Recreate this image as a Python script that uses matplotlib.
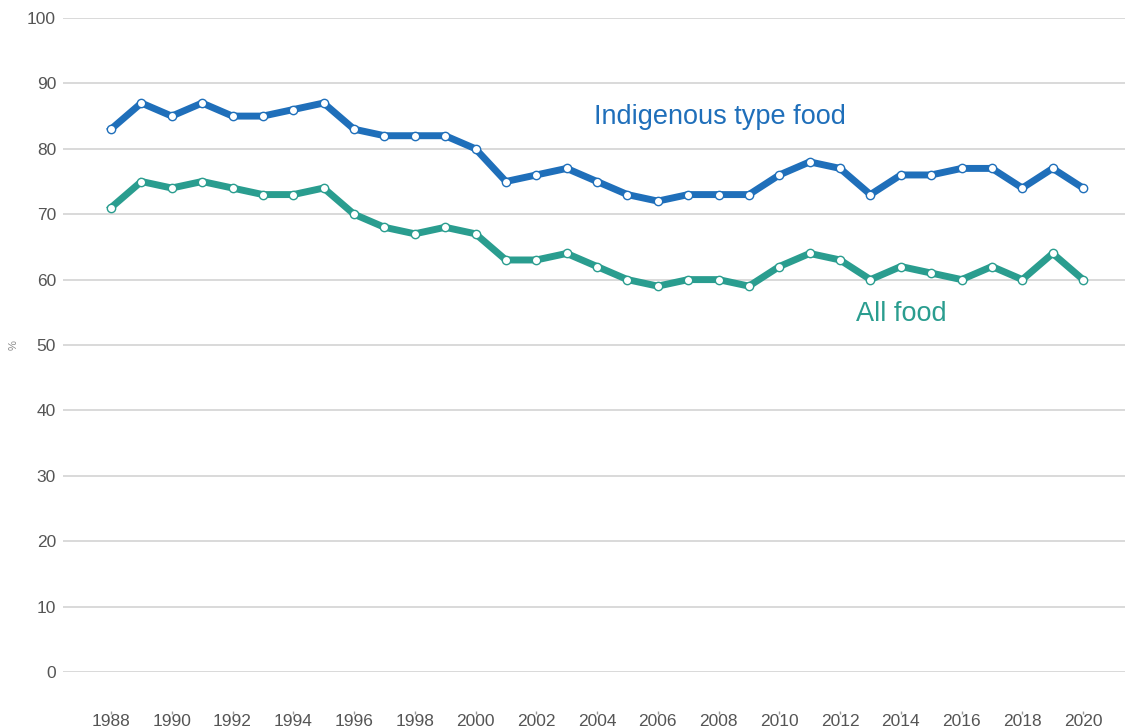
import matplotlib
matplotlib.use('Agg')
import matplotlib.pyplot as plt

years = list(range(1988, 2021))
indigenous = [83, 87, 85, 87, 85, 85, 86, 87, 83, 82, 82, 82, 80, 75, 76, 77, 75, 73, 72, 73,
              73, 73, 76, 78, 77, 73, 76, 76, 77, 77, 74, 77, 74]
all_food = [71, 75, 74, 75, 74, 73, 73, 74, 70, 68, 67, 68, 67, 63, 63, 64, 62, 60, 59, 60,
            60, 59, 62, 64, 63, 60, 62, 61, 60, 62, 60, 64, 60]

blue = '#1f6fba'
teal = '#2a9d8f'

plt.rcParams['font.family'] = ['Liberation Sans', 'DejaVu Sans']

fig = plt.figure(figsize=(11.25, 7.28), dpi=100)
ax = fig.add_axes([63 / 1125, 1 - 672 / 728, 1 - 63 / 1125, (672 - 18) / 728])

for vals, col in [(indigenous, blue), (all_food, teal)]:
    ax.plot(years, vals, color=col, lw=5, solid_joinstyle='miter', zorder=3,
            marker='o', ms=6, mfc='white', mec=col, mew=1)

ax.set_ylim(0, 100)
ax.set_xlim(1986.42, 2021.38)
ax.set_yticks(range(0, 101, 10))
ax.set_xticks(range(1988, 2021, 2))
ax.grid(axis='y', color='#d9d9d9', lw=1.4)
ax.set_axisbelow(True)
for s in ax.spines.values():
    s.set_visible(False)
# x ticks sit well below the zero line, as tiny dots over the year labels
ax.spines['bottom'].set_position(('outward', 28))
ax.tick_params(axis='y', length=0, pad=5, labelsize=12.5, labelcolor='#555555')
ax.tick_params(axis='x', length=2, width=1, color='#999999', direction='out',
               pad=0, labelsize=12.5, labelcolor='#555555')
ax.set_ylabel('%', fontsize=8, color='#888888', labelpad=6)

ax.text(2003.9, 84.9, 'Indigenous type food', color=blue, fontsize=19.5, va='center', ha='left')
ax.text(2012.53, 54.7, 'All food', color=teal, fontsize=19.5, va='center', ha='left')

fig.savefig('out.png', dpi=100, facecolor='white')
